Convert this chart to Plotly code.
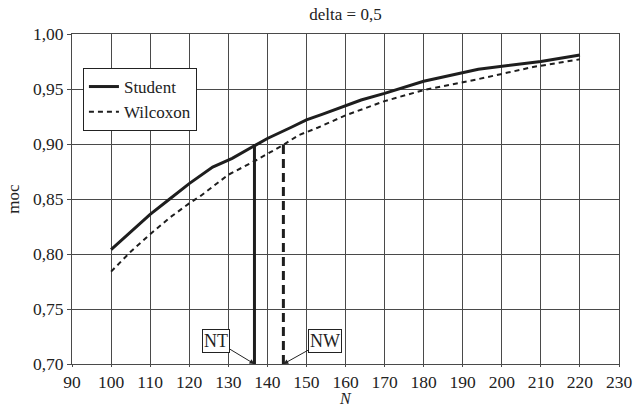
import plotly.graph_objects as go

# Data
student_n = [100, 105, 110, 115, 120, 126, 131, 137, 140, 146, 150, 154, 157, 164, 170, 180, 194, 210, 220]
student_moc = [0.804, 0.820, 0.836, 0.850, 0.864, 0.879, 0.887, 0.899, 0.905, 0.915, 0.922, 0.927, 0.931,
               0.940, 0.946, 0.957, 0.968, 0.975, 0.981]
wilcoxon_n = [100, 105, 110, 115, 120, 123, 130, 137, 144, 148, 153, 160, 170, 180, 194, 208, 220]
wilcoxon_moc = [0.784, 0.802, 0.818, 0.833, 0.846, 0.853, 0.872, 0.885, 0.899, 0.908, 0.915, 0.926,
                0.939, 0.949, 0.959, 0.970, 0.977]
NT = 136.7
NW = 144.1
target_moc = 0.90
y_min = 0.70

FONT = "Liberation Serif"
GRID = "#4a4a4a"
INK = "#1e1e1e"

fig = go.Figure()
fig.add_trace(go.Scatter(x=student_n, y=student_moc, mode="lines", name="Student",
                         line=dict(color=INK, width=3)))
fig.add_trace(go.Scatter(x=wilcoxon_n, y=wilcoxon_moc, mode="lines", name="Wilcoxon",
                         line=dict(color=INK, width=2, dash="5px,4px")))
fig.add_trace(go.Scatter(x=[NT, NT], y=[y_min, target_moc], mode="lines", showlegend=False,
                         line=dict(color=INK, width=3)))
fig.add_trace(go.Scatter(x=[NW, NW], y=[y_min, target_moc], mode="lines", showlegend=False,
                         line=dict(color=INK, width=3, dash="9px,5px")))

for label, xv, tx in [("NT", NT, 126.9), ("NW", NW, 154.7)]:
    fig.add_annotation(x=xv, y=y_min, ax=tx, ay=0.721, xref="x", yref="y", axref="x", ayref="y",
                       text=label, showarrow=True, arrowhead=2, arrowsize=1, arrowwidth=1,
                       arrowcolor="#222", bordercolor="#222", borderwidth=1, borderpad=1,
                       bgcolor="white", font=dict(family=FONT, size=18, color="#222"))

# x-axis title placed below the tick labels
fig.add_annotation(x=0.5, y=-44 / 330, xref="paper", yref="paper", text="<i>N</i>", showarrow=False,
                   xanchor="center", yanchor="bottom", borderpad=0,
                   font=dict(family=FONT, size=16, color="#222"))

fig.update_layout(
    width=634, height=408,
    margin=dict(l=72, r=15, t=34, b=44),
    paper_bgcolor="white", plot_bgcolor="white",
    separators=", ",
    font=dict(family=FONT, size=17.5, color="#222"),
    title=dict(text="delta = 0,5", x=0.545, xanchor="center", y=0.965, yanchor="middle",
               font=dict(family=FONT, size=17, color="#222")),
    legend=dict(x=0.02, y=0.897, xanchor="left", yanchor="top", bgcolor="white",
                bordercolor="#222", borderwidth=1, font=dict(family=FONT, size=17, color="#222"),
                tracegroupgap=0),
    showlegend=True,
)
fig.update_xaxes(range=[90, 230], dtick=10, tick0=90, showgrid=True, gridcolor=GRID, gridwidth=1,
                 showline=True, linecolor=GRID, linewidth=1, mirror=True, automargin=False,
                 ticks="outside", ticklen=2, tickcolor=GRID, zeroline=False)
fig.update_yaxes(range=[0.70, 1.00], dtick=0.05, tick0=0.70, tickformat=".2f",
                 showgrid=True, gridcolor=GRID, gridwidth=1, automargin=False,
                 showline=True, linecolor=GRID, linewidth=1, mirror=True,
                 ticks="outside", ticklen=4, tickcolor=GRID, zeroline=False,
                 title=dict(text="moc", standoff=8, font=dict(family=FONT, size=17)))

fig.write_html("out.html")
